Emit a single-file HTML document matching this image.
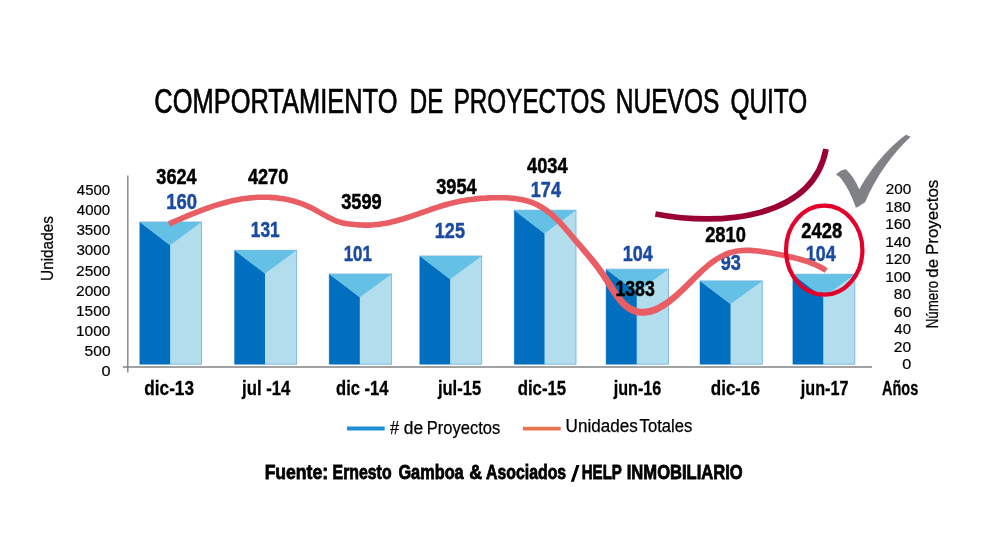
<!DOCTYPE html>
<html><head><meta charset="utf-8"><title>Comportamiento de proyectos nuevos Quito</title>
<style>
html,body{margin:0;padding:0;background:#fff;}
svg{display:block;will-change:transform;transform:translateZ(0);}

text{font-family:"Liberation Sans",sans-serif;}
.ax{font-size:15.5px;stroke:#000;stroke-width:0.2px;}
.at1{font-size:17.4px;stroke:#000;stroke-width:0.25px;}
.at2{font-size:16px;stroke:#000;stroke-width:0.25px;}
.ttl{font-size:34.5px;stroke:#000;stroke-width:0.7px;}
.xl{font-size:19.6px;font-weight:bold;stroke:#000;stroke-width:0.3px;}
.dl{font-size:22.6px;font-weight:bold;stroke-width:0.5px;stroke:#000;}
.bl{fill:#1b4ba1;stroke:#1b4ba1;}
.lg{font-size:17.5px;stroke:#000;stroke-width:0.25px;}
.ft{font-size:20.5px;font-weight:bold;stroke:#000;stroke-width:0.8px;}

</style></head><body>
<svg width="1008" height="538" viewBox="0 0 1008 538">
<rect width="1008" height="538" fill="#ffffff"/>
<!--BARS-->
<rect x="139.8" y="222.0" width="61.7" height="142.2" fill="#b1dded" stroke="#7fb3e3" stroke-width="0.9"/>
<polygon points="139.8,222.0 170.1,245.2 170.1,364.2 139.8,364.2" fill="#006fbf"/>
<polygon points="139.8,222.0 201.5,222.0 170.1,245.2" fill="#64c0e4"/>
<rect x="234.6" y="250.3" width="62.0" height="113.9" fill="#b1dded" stroke="#7fb3e3" stroke-width="0.9"/>
<polygon points="234.6,250.3 265.0,273.5 265.0,364.2 234.6,364.2" fill="#006fbf"/>
<polygon points="234.6,250.3 296.6,250.3 265.0,273.5" fill="#64c0e4"/>
<rect x="329.2" y="274.0" width="62.4" height="90.2" fill="#b1dded" stroke="#7fb3e3" stroke-width="0.9"/>
<polygon points="329.2,274.0 359.8,297.2 359.8,364.2 329.2,364.2" fill="#006fbf"/>
<polygon points="329.2,274.0 391.6,274.0 359.8,297.2" fill="#64c0e4"/>
<rect x="419.8" y="256.0" width="61.9" height="108.2" fill="#b1dded" stroke="#7fb3e3" stroke-width="0.9"/>
<polygon points="419.8,256.0 450.1,279.2 450.1,364.2 419.8,364.2" fill="#006fbf"/>
<polygon points="419.8,256.0 481.7,256.0 450.1,279.2" fill="#64c0e4"/>
<rect x="514.3" y="210.2" width="61.7" height="154.0" fill="#b1dded" stroke="#7fb3e3" stroke-width="0.9"/>
<polygon points="514.3,210.2 544.5,233.4 544.5,364.2 514.3,364.2" fill="#006fbf"/>
<polygon points="514.3,210.2 576.0,210.2 544.5,233.4" fill="#64c0e4"/>
<rect x="606.1" y="269.2" width="62.4" height="95.0" fill="#b1dded" stroke="#7fb3e3" stroke-width="0.9"/>
<polygon points="606.1,269.2 636.7,292.4 636.7,364.2 606.1,364.2" fill="#006fbf"/>
<polygon points="606.1,269.2 668.5,269.2 636.7,292.4" fill="#64c0e4"/>
<rect x="700.0" y="280.9" width="62.3" height="83.3" fill="#b1dded" stroke="#7fb3e3" stroke-width="0.9"/>
<polygon points="700.0,280.9 730.5,304.1 730.5,364.2 700.0,364.2" fill="#006fbf"/>
<polygon points="700.0,280.9 762.3,280.9 730.5,304.1" fill="#64c0e4"/>
<rect x="792.9" y="274.2" width="61.9" height="90.0" fill="#b1dded" stroke="#7fb3e3" stroke-width="0.9"/>
<polygon points="792.9,274.2 823.2,297.4 823.2,364.2 792.9,364.2" fill="#006fbf"/>
<polygon points="792.9,274.2 854.8,274.2 823.2,297.4" fill="#64c0e4"/>
<!--AXES-->
<line x1="127.8" y1="175.4" x2="127.8" y2="372.4" stroke="#808285" stroke-width="1.4"/>
<line x1="122.9" y1="367" x2="872" y2="367" stroke="#808285" stroke-width="1.5"/>
<!--BLUE LABELS-->
<text x="166.15" y="208.6" textLength="30.84" lengthAdjust="spacingAndGlyphs" class="dl bl">160</text>
<text x="250.85" y="237.2" textLength="28.88" lengthAdjust="spacingAndGlyphs" class="dl bl">131</text>
<text x="343.73" y="261.1" textLength="28.16" lengthAdjust="spacingAndGlyphs" class="dl bl">101</text>
<text x="434.80" y="237.7" textLength="30.15" lengthAdjust="spacingAndGlyphs" class="dl bl">125</text>
<text x="530.84" y="197.4" textLength="30.09" lengthAdjust="spacingAndGlyphs" class="dl bl">174</text>
<text x="622.87" y="260.9" textLength="30.00" lengthAdjust="spacingAndGlyphs" class="dl bl">104</text>
<text x="720.66" y="270.3" textLength="20.15" lengthAdjust="spacingAndGlyphs" class="dl bl">93</text>
<text x="805.82" y="260.8" textLength="29.78" lengthAdjust="spacingAndGlyphs" class="dl bl">104</text>
<!--CURVES-->
<path d="M170.1,226.5 L172.7,225.3 L175.2,224.2 L177.7,223.1 L180.3,222.0 L182.8,220.9 L185.3,219.8 L187.8,218.8 L190.4,217.7 L192.9,216.7 L195.4,215.7 L197.9,214.7 L200.5,213.7 L203.0,212.7 L205.5,211.8 L208.0,210.9 L210.5,210.0 L213.0,209.1 L215.5,208.3 L218.0,207.5 L220.5,206.8 L223.0,206.1 L225.5,205.4 L228.0,204.7 L230.5,204.1 L233.0,203.5 L235.5,203.0 L238.0,202.5 L240.5,202.0 L243.0,201.6 L245.5,201.3 L248.0,201.0 L250.5,200.7 L253.0,200.5 L255.4,200.3 L257.9,200.1 L260.4,200.1 L262.9,200.0 L265.4,200.0 L267.9,200.1 L270.3,200.2 L272.8,200.4 L275.3,200.6 L277.8,200.9 L280.2,201.2 L282.7,201.6 L285.2,202.1 L287.7,202.6 L290.1,203.1 L292.6,203.8 L295.1,204.5 L297.5,205.2 L300.0,206.1 L302.4,207.0 L304.9,208.0 L307.4,209.2 L309.9,210.3 L312.3,211.6 L314.8,212.9 L317.3,214.3 L319.9,215.7 L322.4,217.2 L325.0,218.6 L327.6,220.0 L330.2,221.3 L332.8,222.6 L335.5,223.7 L338.2,224.6 L340.9,225.4 L343.5,226.0 L346.2,226.5 L348.8,226.8 L351.4,227.1 L354.0,227.3 L356.6,227.5 L359.1,227.7 L361.7,227.8 L364.3,227.9 L366.9,227.9 L369.5,227.9 L372.2,227.8 L374.8,227.6 L377.4,227.3 L380.0,227.0 L382.6,226.6 L385.2,226.2 L387.8,225.7 L390.4,225.2 L392.9,224.6 L395.5,223.9 L398.1,223.2 L400.7,222.5 L403.3,221.8 L405.8,221.0 L408.4,220.2 L410.9,219.3 L413.5,218.5 L416.0,217.6 L418.6,216.7 L421.1,215.8 L423.7,214.9 L426.2,214.0 L428.7,213.2 L431.3,212.3 L433.8,211.4 L436.3,210.6 L438.8,209.7 L441.3,209.0 L443.8,208.2 L446.4,207.5 L448.9,206.8 L451.4,206.1 L453.9,205.5 L456.3,204.9 L458.8,204.3 L461.3,203.8 L463.8,203.4 L466.3,203.0 L468.8,202.6 L471.3,202.2 L473.8,201.9 L476.3,201.7 L478.8,201.4 L481.3,201.2 L483.8,201.0 L486.3,200.9 L488.9,200.7 L491.4,200.6 L493.9,200.5 L496.4,200.5 L498.9,200.5 L501.4,200.5 L503.9,200.5 L506.4,200.6 L508.8,200.8 L511.3,201.0 L513.8,201.2 L516.2,201.5 L518.7,201.9 L521.1,202.3 L523.6,202.9 L526.0,203.5 L528.4,204.3 L530.9,205.1 L533.3,206.1 L535.7,207.2 L538.1,208.4 L540.5,209.9 L543.0,211.4 L545.4,213.2 L547.8,215.1 L550.3,217.1 L552.7,219.4 L555.2,221.7 L557.7,224.3 L560.2,227.0 L562.7,229.8 L565.2,232.7 L567.7,235.6 L570.2,238.7 L572.7,241.7 L575.3,244.7 L577.8,247.7 L580.3,250.7 L582.8,253.7 L585.3,256.6 L587.8,259.7 L590.3,262.8 L592.8,265.9 L595.3,269.2 L597.7,272.7 L600.2,276.3 L602.7,280.0 L605.2,283.9 L607.7,287.9 L610.2,291.9 L612.8,295.8 L615.4,299.4 L618.0,302.8 L620.7,305.8 L623.5,308.4 L626.3,310.5 L629.1,312.3 L632.0,313.7 L634.9,314.7 L637.8,315.4 L640.7,315.8 L643.6,315.8 L646.5,315.6 L649.3,315.1 L652.1,314.4 L654.8,313.5 L657.6,312.4 L660.3,311.1 L663.0,309.6 L665.6,307.9 L668.2,306.1 L670.9,304.2 L673.5,302.1 L676.0,300.0 L678.6,297.7 L681.2,295.3 L683.7,292.9 L686.3,290.4 L688.8,287.9 L691.3,285.4 L693.8,282.9 L696.4,280.3 L698.9,277.8 L701.4,275.4 L703.9,273.0 L706.3,270.8 L708.8,268.6 L711.3,266.6 L713.7,264.7 L716.2,262.9 L718.6,261.3 L721.0,259.8 L723.4,258.5 L725.9,257.4 L728.3,256.4 L730.6,255.5 L733.0,254.8 L735.4,254.2 L737.8,253.8 L740.2,253.5 L742.6,253.3 L745.1,253.2 L747.5,253.2 L750.0,253.2 L752.4,253.4 L754.9,253.6 L757.4,253.8 L759.9,254.1 L762.4,254.4 L764.9,254.8 L767.4,255.2 L769.9,255.6 L772.4,256.1 L774.9,256.5 L777.5,257.0 L780.0,257.5 L782.5,258.0 L785.0,258.6 L787.5,259.1 L790.0,259.7 L792.6,260.3 L795.1,260.9 L797.6,261.5 L800.1,262.2 L802.6,263.0 L805.0,263.7 L807.5,264.6 L810.0,265.5 L812.4,266.5 L814.9,267.5 L817.3,268.7 L819.8,269.9 L822.2,271.3 L824.7,272.8 L827.7,268.2 L825.1,266.5 L822.5,265.0 L819.8,263.7 L817.2,262.4 L814.6,261.3 L812.0,260.3 L809.4,259.3 L806.8,258.4 L804.2,257.6 L801.6,256.8 L799.0,256.1 L796.4,255.5 L793.9,254.8 L791.3,254.2 L788.7,253.6 L786.2,253.1 L783.6,252.6 L781.1,252.0 L778.5,251.5 L776.0,251.0 L773.4,250.6 L770.9,250.1 L768.3,249.7 L765.7,249.3 L763.2,248.9 L760.6,248.5 L758.0,248.2 L755.4,248.0 L752.8,247.8 L750.2,247.6 L747.6,247.6 L744.9,247.6 L742.3,247.7 L739.6,247.9 L737.0,248.2 L734.3,248.7 L731.6,249.4 L728.9,250.1 L726.2,251.1 L723.5,252.2 L720.9,253.4 L718.2,254.9 L715.6,256.4 L712.9,258.2 L710.3,260.0 L707.7,262.0 L705.1,264.2 L702.5,266.4 L699.9,268.7 L697.3,271.1 L694.7,273.6 L692.1,276.1 L689.6,278.6 L687.0,281.1 L684.5,283.5 L681.9,286.0 L679.4,288.4 L676.9,290.7 L674.4,292.9 L671.9,295.0 L669.4,297.0 L666.9,298.9 L664.4,300.7 L662.0,302.3 L659.6,303.7 L657.2,305.0 L654.8,306.0 L652.5,307.0 L650.1,307.7 L647.9,308.2 L645.6,308.6 L643.4,308.7 L641.2,308.7 L639.1,308.4 L636.9,307.9 L634.7,307.1 L632.5,306.1 L630.3,304.7 L628.0,303.0 L625.7,300.9 L623.3,298.3 L620.9,295.3 L618.4,291.9 L615.9,288.2 L613.4,284.3 L610.8,280.3 L608.2,276.4 L605.6,272.6 L603.0,268.9 L600.4,265.4 L597.8,262.1 L595.2,258.8 L592.6,255.7 L590.0,252.7 L587.5,249.7 L584.9,246.8 L582.3,243.8 L579.8,240.9 L577.3,237.9 L574.7,234.9 L572.2,231.9 L569.6,228.9 L567.0,225.9 L564.4,223.1 L561.8,220.3 L559.2,217.7 L556.6,215.2 L554.0,212.8 L551.4,210.7 L548.8,208.6 L546.1,206.8 L543.5,205.1 L540.8,203.5 L538.2,202.1 L535.5,200.9 L532.8,199.8 L530.2,198.9 L527.5,198.1 L524.9,197.4 L522.3,196.8 L519.6,196.4 L517.0,196.0 L514.4,195.6 L511.8,195.4 L509.2,195.2 L506.6,195.0 L504.0,194.9 L501.4,194.9 L498.9,194.9 L496.3,194.9 L493.7,195.0 L491.2,195.0 L488.6,195.1 L486.0,195.3 L483.5,195.4 L480.9,195.6 L478.3,195.8 L475.7,196.1 L473.2,196.4 L470.6,196.7 L468.0,197.0 L465.4,197.4 L462.9,197.9 L460.3,198.3 L457.7,198.9 L455.1,199.4 L452.5,200.0 L450.0,200.7 L447.4,201.3 L444.8,202.1 L442.2,202.8 L439.7,203.6 L437.1,204.4 L434.6,205.3 L432.0,206.1 L429.4,207.0 L426.9,207.9 L424.4,208.8 L421.8,209.7 L419.3,210.5 L416.7,211.4 L414.2,212.3 L411.7,213.2 L409.2,214.0 L406.7,214.8 L404.1,215.6 L401.6,216.4 L399.1,217.1 L396.6,217.8 L394.1,218.5 L391.6,219.1 L389.2,219.7 L386.7,220.2 L384.2,220.7 L381.7,221.1 L379.2,221.5 L376.8,221.8 L374.3,222.0 L371.8,222.2 L369.4,222.3 L366.9,222.3 L364.4,222.3 L362.0,222.2 L359.5,222.1 L357.0,222.0 L354.5,221.8 L352.0,221.5 L349.5,221.3 L347.0,220.9 L344.6,220.5 L342.2,220.0 L339.9,219.3 L337.5,218.4 L335.1,217.4 L332.6,216.3 L330.2,215.0 L327.7,213.7 L325.2,212.3 L322.6,210.9 L320.1,209.4 L317.5,208.0 L314.9,206.6 L312.3,205.3 L309.7,204.1 L307.1,202.9 L304.5,201.8 L301.9,200.8 L299.3,199.9 L296.7,199.1 L294.1,198.3 L291.5,197.7 L288.9,197.1 L286.2,196.6 L283.6,196.1 L281.0,195.7 L278.4,195.3 L275.9,195.0 L273.3,194.8 L270.7,194.6 L268.1,194.5 L265.5,194.4 L262.9,194.4 L260.3,194.5 L257.7,194.6 L255.1,194.7 L252.5,194.9 L249.9,195.1 L247.3,195.4 L244.7,195.7 L242.2,196.1 L239.6,196.5 L237.0,197.0 L234.4,197.5 L231.8,198.1 L229.3,198.7 L226.7,199.3 L224.1,200.0 L221.5,200.7 L219.0,201.4 L216.4,202.2 L213.8,203.0 L211.3,203.8 L208.7,204.7 L206.1,205.6 L203.6,206.5 L201.0,207.5 L198.4,208.5 L195.9,209.4 L193.3,210.5 L190.8,211.5 L188.2,212.6 L185.7,213.6 L183.1,214.7 L180.6,215.8 L178.0,216.9 L175.5,218.0 L173.0,219.1 L170.4,220.2 L167.9,221.3Z" fill="#e85e64"/>
<!--LABELS-->
<text x="154.34" y="113.3" textLength="243.09" lengthAdjust="spacingAndGlyphs" class="ttl">COMPORTAMIENTO</text>
<text x="409.80" y="113.3" textLength="33.48" lengthAdjust="spacingAndGlyphs" class="ttl">DE</text>
<text x="453.63" y="113.3" textLength="151.95" lengthAdjust="spacingAndGlyphs" class="ttl">PROYECTOS</text>
<text x="615.82" y="113.3" textLength="103.49" lengthAdjust="spacingAndGlyphs" class="ttl">NUEVOS</text>
<text x="730.47" y="113.3" textLength="76.83" lengthAdjust="spacingAndGlyphs" class="ttl">QUITO</text>
<text x="156.35" y="183.6" textLength="40.23" lengthAdjust="spacingAndGlyphs" class="dl">3624</text>
<text x="247.93" y="183.6" textLength="40.34" lengthAdjust="spacingAndGlyphs" class="dl">4270</text>
<text x="341.19" y="208.6" textLength="40.54" lengthAdjust="spacingAndGlyphs" class="dl">3599</text>
<text x="436.20" y="194.0" textLength="40.42" lengthAdjust="spacingAndGlyphs" class="dl">3954</text>
<text x="527.05" y="173.1" textLength="40.60" lengthAdjust="spacingAndGlyphs" class="dl">4034</text>
<text x="615.42" y="295.6" textLength="39.33" lengthAdjust="spacingAndGlyphs" class="dl">1383</text>
<text x="705.15" y="241.6" textLength="40.71" lengthAdjust="spacingAndGlyphs" class="dl">2810</text>
<text x="801.37" y="238.2" textLength="40.85" lengthAdjust="spacingAndGlyphs" class="dl">2428</text>
<text x="144.31" y="394.8" textLength="49.70" lengthAdjust="spacingAndGlyphs" class="xl">dic-13</text>
<text x="242.10" y="394.8" textLength="48.21" lengthAdjust="spacingAndGlyphs" class="xl">jul -14</text>
<text x="336.08" y="394.8" textLength="52.45" lengthAdjust="spacingAndGlyphs" class="xl">dic -14</text>
<text x="437.88" y="394.8" textLength="43.31" lengthAdjust="spacingAndGlyphs" class="xl">jul-15</text>
<text x="517.64" y="394.8" textLength="48.54" lengthAdjust="spacingAndGlyphs" class="xl">dic-15</text>
<text x="613.70" y="394.8" textLength="47.57" lengthAdjust="spacingAndGlyphs" class="xl">jun-16</text>
<text x="710.76" y="394.8" textLength="49.25" lengthAdjust="spacingAndGlyphs" class="xl">dic-16</text>
<text x="800.83" y="394.8" textLength="47.69" lengthAdjust="spacingAndGlyphs" class="xl">jun-17</text>
<text x="881.93" y="394.8" textLength="36.36" lengthAdjust="spacingAndGlyphs" class="xl">Años</text>
<text x="389.92" y="434.4" textLength="9.11" lengthAdjust="spacingAndGlyphs" class="lg">#</text>
<text x="403.83" y="434.4" textLength="19.36" lengthAdjust="spacingAndGlyphs" class="lg">de</text>
<text x="426.83" y="434.4" textLength="73.35" lengthAdjust="spacingAndGlyphs" class="lg">Proyectos</text>
<text x="565.61" y="432.1" textLength="72.13" lengthAdjust="spacingAndGlyphs" class="lg">Unidades</text>
<text x="639.62" y="432.1" textLength="52.57" lengthAdjust="spacingAndGlyphs" class="lg">Totales</text>
<text x="264.64" y="479.3" textLength="63.40" lengthAdjust="spacingAndGlyphs" class="ft">Fuente:</text>
<text x="332.58" y="479.3" textLength="58.99" lengthAdjust="spacingAndGlyphs" class="ft">Ernesto</text>
<text x="398.41" y="479.3" textLength="65.26" lengthAdjust="spacingAndGlyphs" class="ft">Gamboa</text>
<text x="469.19" y="479.3" textLength="12.80" lengthAdjust="spacingAndGlyphs" class="ft">&amp;</text>
<text x="486.12" y="479.3" textLength="80.04" lengthAdjust="spacingAndGlyphs" class="ft">Asociados</text>
<text x="581.76" y="479.3" textLength="40.16" lengthAdjust="spacingAndGlyphs" class="ft">HELP</text>
<text x="626.78" y="479.3" textLength="115.95" lengthAdjust="spacingAndGlyphs" class="ft">INMOBILIARIO</text>
<text x="101.44" y="376.3" textLength="9.08" lengthAdjust="spacingAndGlyphs" class="ax">0</text>
<text x="84.60" y="356.2" textLength="25.97" lengthAdjust="spacingAndGlyphs" class="ax">500</text>
<text x="76.01" y="336.0" textLength="34.28" lengthAdjust="spacingAndGlyphs" class="ax">1000</text>
<text x="76.01" y="315.9" textLength="34.28" lengthAdjust="spacingAndGlyphs" class="ax">1500</text>
<text x="76.05" y="295.7" textLength="34.34" lengthAdjust="spacingAndGlyphs" class="ax">2000</text>
<text x="76.05" y="275.6" textLength="34.34" lengthAdjust="spacingAndGlyphs" class="ax">2500</text>
<text x="76.42" y="255.4" textLength="33.79" lengthAdjust="spacingAndGlyphs" class="ax">3000</text>
<text x="76.42" y="235.3" textLength="33.79" lengthAdjust="spacingAndGlyphs" class="ax">3500</text>
<text x="76.86" y="215.1" textLength="33.28" lengthAdjust="spacingAndGlyphs" class="ax">4000</text>
<text x="76.86" y="195.0" textLength="33.28" lengthAdjust="spacingAndGlyphs" class="ax">4500</text>
<text x="902.28" y="369.1" textLength="9.05" lengthAdjust="spacingAndGlyphs" class="ax">0</text>
<text x="893.83" y="351.6" textLength="17.42" lengthAdjust="spacingAndGlyphs" class="ax">20</text>
<text x="894.33" y="334.1" textLength="16.70" lengthAdjust="spacingAndGlyphs" class="ax">40</text>
<text x="893.82" y="316.7" textLength="17.67" lengthAdjust="spacingAndGlyphs" class="ax">60</text>
<text x="893.87" y="299.2" textLength="17.10" lengthAdjust="spacingAndGlyphs" class="ax">80</text>
<text x="885.13" y="281.7" textLength="25.82" lengthAdjust="spacingAndGlyphs" class="ax">100</text>
<text x="885.13" y="264.2" textLength="25.82" lengthAdjust="spacingAndGlyphs" class="ax">120</text>
<text x="885.13" y="246.7" textLength="25.82" lengthAdjust="spacingAndGlyphs" class="ax">140</text>
<text x="885.13" y="229.3" textLength="25.82" lengthAdjust="spacingAndGlyphs" class="ax">160</text>
<text x="885.13" y="211.8" textLength="25.82" lengthAdjust="spacingAndGlyphs" class="ax">180</text>
<text x="885.76" y="194.3" textLength="25.52" lengthAdjust="spacingAndGlyphs" class="ax">200</text>
<text transform="translate(53.4,400) rotate(-90)" x="119.12" y="0" textLength="64.73" lengthAdjust="spacingAndGlyphs" class="at1">Unidades</text>
<text transform="translate(937.7,400) rotate(-90)" x="71.75" y="0" textLength="47.32" lengthAdjust="spacingAndGlyphs" class="at2">Número</text>
<text transform="translate(937.7,400) rotate(-90)" x="122.33" y="0" textLength="18.66" lengthAdjust="spacingAndGlyphs" class="at2">de</text>
<text transform="translate(937.7,400) rotate(-90)" x="145.01" y="0" textLength="75.26" lengthAdjust="spacingAndGlyphs" class="at2">Proyectos</text>
<path d="M655.4,214 C720,226.5 813,219 826,149" fill="none" stroke="#9b0033" stroke-width="5.8"/>
<ellipse cx="824.2" cy="250.2" rx="38.2" ry="44.5" fill="none" stroke="#e4002b" stroke-width="4.2"/>
<path d="M835.9,174.7 C839,171.5 842.5,169.5 845.9,169.3 C851,174 856,181.5 859.3,189.4 C868,173 886,149 906.1,134.7 L910.6,136.7 C894,152 876,176 865.1,202.3 C862,204.5 859,206.5 855.9,207.8 C852.5,197 846,184 839.2,176.5 C838,175.5 837,175 835.9,174.7 Z" fill="#808285"/>
<!--LEGEND-->
<polygon points="570.8,481.8 573.9,481.8 579.5,465 576.4,465" fill="#000"/>
<line x1="347" y1="428.5" x2="384.7" y2="428.5" stroke="#1e8fd5" stroke-width="3.8"/>
<line x1="523" y1="428.6" x2="560.7" y2="428.6" stroke="#e8744f" stroke-width="3.8"/>
</svg>
</body></html>
